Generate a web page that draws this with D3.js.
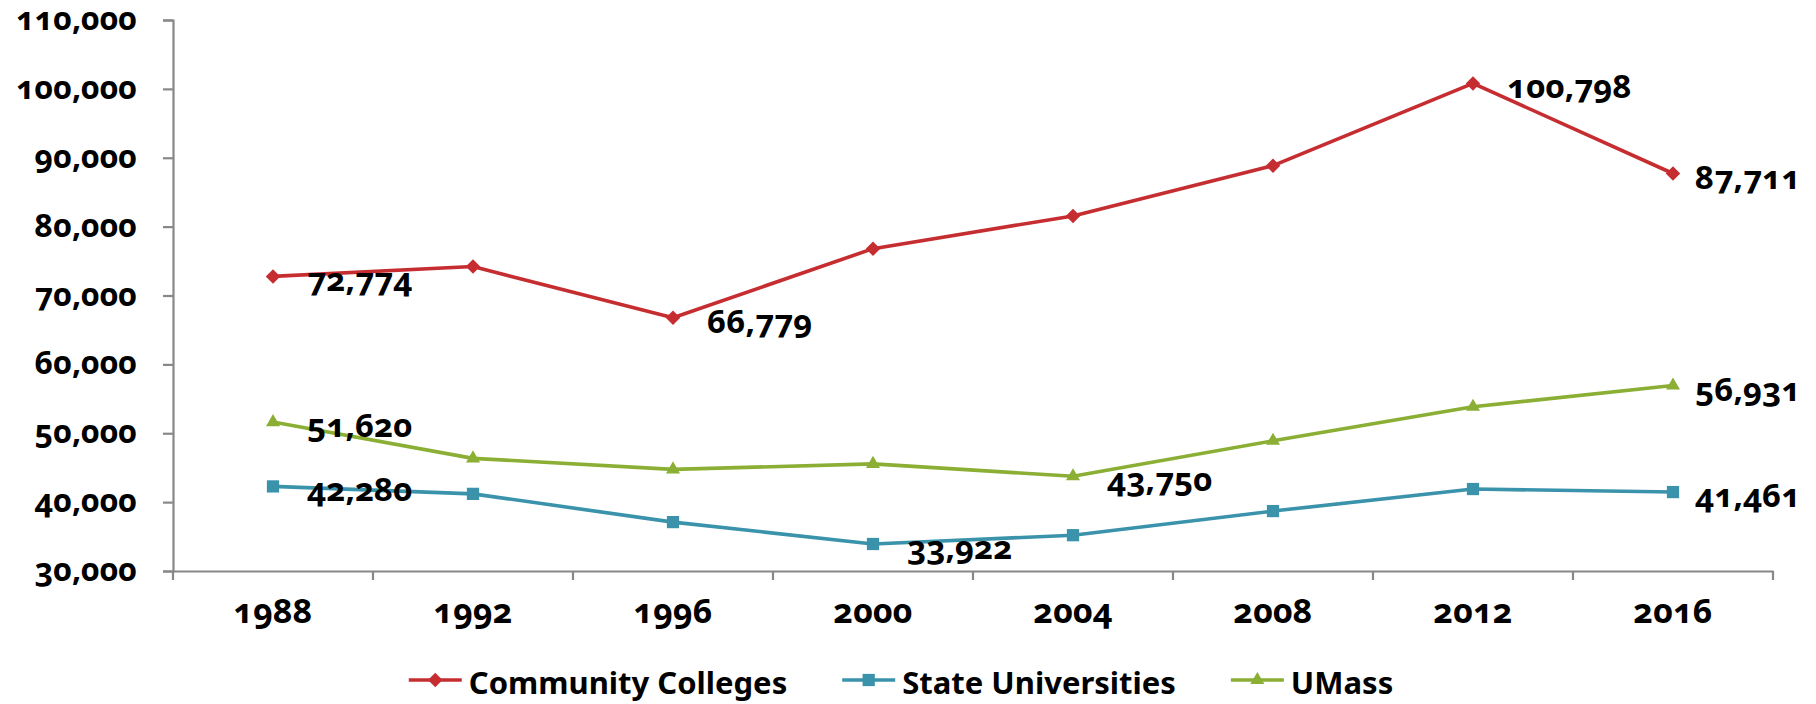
<!DOCTYPE html>
<html>
<head>
<meta charset="utf-8">
<script src="https://cdn.jsdelivr.net/npm/d3@7"></script>
<style>
  html, body { margin: 0; padding: 0; background: #fff; }
  svg text { font-family: "Noto Sans", "Open Sans", sans-serif; font-weight: 700; fill: #000;
             font-variant-numeric: oldstyle-nums; }
</style>
</head>
<body>
<svg id="chart" width="1816" height="704"></svg>
<script>
// ---- data ----
const years = ["1988", "1992", "1996", "2000", "2004", "2008", "2012", "2016"];
const seriesNames = ["Community Colleges", "State Universities", "UMass"];
const communityColleges = [72774, 74200, 66779, 76800, 81550, 88850, 100798, 87711];
const stateUniversities = [42280, 41200, 37100, 33922, 35200, 38700, 41900, 41461];
const umass = [51620, 46350, 44750, 45550, 43750, 48900, 53850, 56931];
const labeledCC = [0, 2, 6, 7];
const labeledSU = [0, 3, 7];
const labeledUM = [0, 4, 7];
const yTickValues = [30000, 40000, 50000, 60000, 70000, 80000, 90000, 100000, 110000];

// ---- layout / style ----
const colors = ["#C62D31", "#3A93AB", "#8AAF34"];
const symbols = [d3.symbolSquare, d3.symbolSquare, d3.symbolTriangle];
const symSizes = [105, 150, 85];
const symRot = [45, 0, 0];
const series = [
  { name: seriesNames[0], values: communityColleges, labels: labeledCC },
  { name: seriesNames[1], values: stateUniversities, labels: labeledSU },
  { name: seriesNames[2], values: umass, labels: labeledUM }
];

const svg = d3.select("#chart");
const plotLeft = 173, plotRight = 1773, plotTop = 20, plotBottom = 571;
const axisColor = "#888888";

const x = d3.scaleBand().domain(years).range([plotLeft, plotRight]).padding(0);
const xc = d => x(d) + x.bandwidth() / 2;
const y = d3.scaleLinear().domain([30000, 110000]).range([plotBottom, plotTop]);
const fmt = d3.format(",");

// Y axis
const yAxis = svg.append("g").attr("transform", `translate(${plotLeft},0)`)
  .call(d3.axisLeft(y).tickValues(yTickValues).tickFormat(fmt).tickSize(10).tickPadding(26));
yAxis.select(".domain").attr("stroke", axisColor).attr("stroke-width", 2.2);
yAxis.selectAll(".tick line").attr("stroke", axisColor).attr("stroke-width", 2.2);
yAxis.selectAll(".tick text").attr("font-size", 32).attr("dy", "0.3em");

// X axis
const xAxis = svg.append("g").attr("transform", `translate(0,${plotBottom})`)
  .call(d3.axisBottom(x).tickSize(0).tickPadding(28));
xAxis.select(".domain").attr("stroke", axisColor).attr("stroke-width", 2.2);
xAxis.selectAll(".tick text").attr("font-size", 34).attr("dy", "0.71em");
const boundaries = years.map(d => x(d)).concat([x(years[years.length - 1]) + x.bandwidth()]);
svg.append("g").selectAll("line").data(boundaries).join("line")
  .attr("x1", d => d).attr("x2", d => d)
  .attr("y1", plotBottom).attr("y2", plotBottom + 9)
  .attr("stroke", axisColor).attr("stroke-width", 2.2);

// Lines + markers
const line = d3.line().x((v, i) => xc(years[i])).y(v => y(v));
series.forEach((s, si) => {
  const g = svg.append("g");
  g.append("path").datum(s.values).attr("d", line)
    .attr("fill", "none").attr("stroke", colors[si]).attr("stroke-width", 3.6)
    .attr("stroke-linejoin", "round");
  g.selectAll("path.m").data(s.values).join("path").attr("class", "m")
    .attr("transform", (v, i) => `translate(${xc(years[i])},${y(v)}) rotate(${symRot[si]})`)
    .attr("d", d3.symbol().type(symbols[si]).size(symSizes[si]))
    .attr("fill", colors[si]);
  g.selectAll("text").data(s.labels).join("text")
    .attr("x", i => xc(years[i]) + (i === years.length - 1 ? 22 : 34))
    .attr("y", i => y(s.values[i]) + 15)
    .attr("font-size", 33)
    .text(i => fmt(s.values[i]));
});

// Legend
const legend = svg.append("g");
const legendY = 680;
let cursor = 0;
series.forEach((s, si) => {
  const g = legend.append("g").attr("transform", `translate(${cursor},0)`);
  g.append("line").attr("x1", 0).attr("x2", 53).attr("y1", legendY).attr("y2", legendY)
    .attr("stroke", colors[si]).attr("stroke-width", 3.6);
  g.append("path").attr("transform", `translate(26.5,${legendY}) rotate(${symRot[si]})`)
    .attr("d", d3.symbol().type(symbols[si]).size(symSizes[si])).attr("fill", colors[si]);
  const t = g.append("text").attr("x", 60).attr("y", legendY + 14).attr("font-size", 31)
    .style("font-variant-numeric", "normal").text(s.name);
  const w = t.node().getComputedTextLength();
  cursor += 60 + w + 55;
});
const totalW = cursor - 55;
legend.attr("transform", `translate(${901 - totalW / 2},0)`);
</script>
</body>
</html>
